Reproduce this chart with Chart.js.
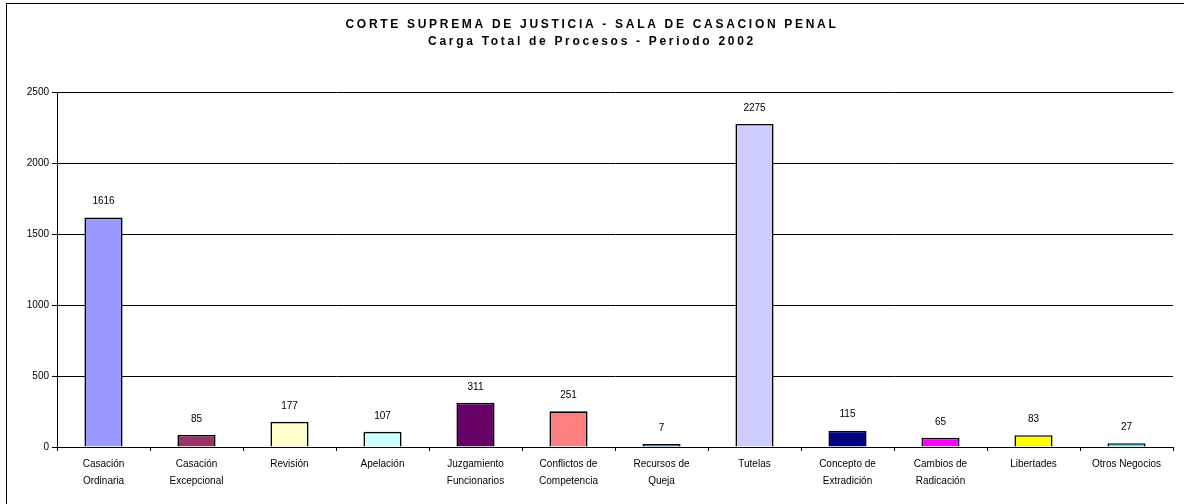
<!DOCTYPE html>
<html>
<head>
<meta charset="utf-8">
<script src="https://cdn.jsdelivr.net/npm/chart.js@4"></script>
<style>
    html, body { margin: 0; padding: 0; background: #fff; }
    #caja { width: 1184px; height: 504px; }
</style>
</head>
<body>
<div id="caja"><canvas id="grafico" width="1184" height="504"></canvas></div>
<script>
// Datos
const categorias = [
    ['Casación', 'Ordinaria'],
    ['Casación', 'Excepcional'],
    ['Revisión'],
    ['Apelación'],
    ['Juzgamiento', 'Funcionarios'],
    ['Conflictos de', 'Competencia'],
    ['Recursos de', 'Queja'],
    ['Tutelas'],
    ['Concepto de', 'Extradición'],
    ['Cambios de', 'Radicación'],
    ['Libertades'],
    ['Otros Negocios']
];
const procesos = [1616, 85, 177, 107, 311, 251, 7, 2275, 115, 65, 83, 27];
const colores = ['#9999FF', '#993366', '#FFFFCC', '#CCFFFF', '#660066', '#FF8080',
                 '#0066CC', '#CCCCFF', '#000080', '#FF00FF', '#FFFF00', '#00FFFF'];
const marcasEjeY = [0, 500, 1000, 1500, 2000, 2500];
const titulo = [
    'CORTE SUPREMA DE JUSTICIA - SALA DE CASACION PENAL',
    'Carga Total de Procesos - Periodo 2002'
];

const fuente = "'Liberation Sans', Arial, sans-serif";

// Marco y título con letras espaciadas (como el original de Excel)
const marcoTitulo = {
    id: 'marcoTitulo',
    afterDraw(chart) {
        const ctx = chart.ctx;
        ctx.save();
        ctx.strokeStyle = '#000';
        ctx.lineWidth = 1;
        ctx.strokeRect(6.5, 3.5, 1300, 700);
        ctx.fillStyle = '#000';
        ctx.font = 'bold 12px ' + fuente;
        ctx.textAlign = 'center';
        ctx.textBaseline = 'middle';
        ctx.letterSpacing = '2.7px';
        ctx.fillText(titulo[0], chart.width / 2, 25);
        ctx.fillText(titulo[1], chart.width / 2, 42);
        ctx.restore();
    }
};

// Valores encima de cada barra
const etiquetasValor = {
    id: 'etiquetasValor',
    afterDatasetsDraw(chart) {
        const ctx = chart.ctx;
        const meta = chart.getDatasetMeta(0);
        ctx.save();
        ctx.fillStyle = '#000';
        ctx.font = '10px ' + fuente;
        ctx.textAlign = 'center';
        ctx.textBaseline = 'middle';
        meta.data.forEach((barra, i) => {
            ctx.fillText(String(procesos[i]), barra.x, barra.y - 16);
        });
        ctx.restore();
    }
};

new Chart(document.getElementById('grafico'), {
    type: 'bar',
    data: {
        labels: categorias,
        datasets: [{
            data: procesos,
            backgroundColor: colores,
            borderColor: '#000',
            borderWidth: 1.6,
            minBarLength: 3,
            categoryPercentage: 1,
            barPercentage: 0.41
        }]
    },
    options: {
        responsive: false,
        animation: false,
        devicePixelRatio: 1,
        layout: { padding: { top: 92, right: 11, left: 0, bottom: 0 } },
        plugins: {
            legend: { display: false },
            title: { display: false },
            tooltip: { enabled: false }
        },
        scales: {
            x: {
                offset: true,
                grid: {
                    offset: true,
                    drawOnChartArea: false,
                    drawTicks: true,
                    tickLength: 4,
                    tickColor: '#000'
                },
                border: { color: '#000', width: 1 },
                ticks: {
                    color: '#000',
                    font: { family: fuente, size: 10, lineHeight: 1.7 },
                    padding: 5,
                    maxRotation: 0,
                    autoSkip: false
                },
                afterFit(scale) { scale.height = 57; }
            },
            y: {
                min: 0,
                max: 2500,
                afterBuildTicks(scale) {
                    scale.ticks = marcasEjeY.map(v => ({ value: v }));
                },
                grid: {
                    color: '#000',
                    lineWidth: 1,
                    tickLength: 5,
                    tickColor: '#000'
                },
                border: { color: '#000', width: 1 },
                ticks: {
                    color: '#000',
                    font: { family: fuente, size: 10 },
                    padding: 3,
                    callback: (valor) => String(valor)
                },
                afterFit(scale) { scale.width = 57; }
            }
        }
    },
    plugins: [marcoTitulo, etiquetasValor]
});
</script>
</body>
</html>
